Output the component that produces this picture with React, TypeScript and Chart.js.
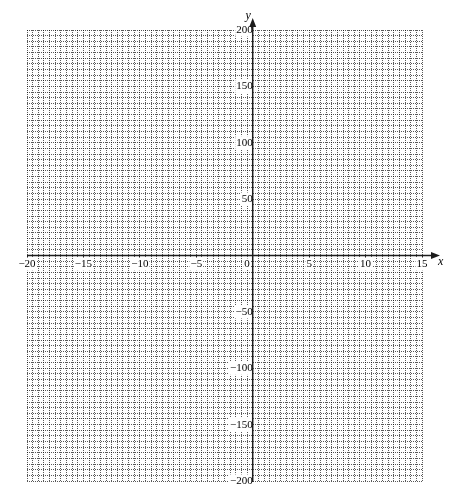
import React, { useEffect, useRef } from 'react';
import { Chart, registerables } from 'chart.js';

Chart.register(...registerables);

// graph paper ranges and labelled ticks
const xRange = [-20, 15];
const yRange = [-200, 200];
const xTicks = [-20, -15, -10, -5, 5, 10, 15];
const yTicks = [-200, -150, -100, -50, 50, 100, 150, 200];
const xGridStep = 0.5;
const yGridStep = 5;
const originLabel = '0';
const xAxisTitle = 'x';
const yAxisTitle = 'y';

const FONT = "'Liberation Serif', 'Times New Roman', serif";
const INK = '#1c1c1c';
const GRID = 'rgba(0, 0, 0, 0.65)';

const fmt = (v: number) => (v < 0 ? '\u2212' + Math.abs(v) : String(v));

// axis lines with arrow heads, axis letters and the origin label
const axesPlugin = {
  id: 'axesArrows',
  afterDraw(chart: any) {
    const { ctx, chartArea, scales } = chart;
    const x0 = scales.x.getPixelForValue(0);
    const y0 = scales.y.getPixelForValue(0);
    const xEnd = chartArea.right + 18;
    const yEnd = chartArea.top - 12;

    ctx.save();
    // origin label on a white patch
    ctx.font = `11px ${FONT}`;
    ctx.textAlign = 'right';
    ctx.textBaseline = 'top';
    const w = ctx.measureText(originLabel).width;
    ctx.fillStyle = '#fff';
    ctx.fillRect(x0 - 3 - w - 1, y0 + 3, w + 2, 11);
    ctx.fillStyle = '#000';
    ctx.fillText(originLabel, x0 - 3, y0 + 3);

    ctx.strokeStyle = INK;
    ctx.fillStyle = INK;
    ctx.lineWidth = 1.5;
    ctx.beginPath();
    ctx.moveTo(chartArea.left, y0);
    ctx.lineTo(xEnd - 6, y0);
    ctx.moveTo(x0, chartArea.bottom + 1);
    ctx.lineTo(x0, yEnd + 6);
    ctx.stroke();

    ctx.beginPath();
    ctx.moveTo(xEnd, y0);
    ctx.lineTo(xEnd - 9, y0 - 3.5);
    ctx.lineTo(xEnd - 9, y0 + 3.5);
    ctx.closePath();
    ctx.moveTo(x0, yEnd);
    ctx.lineTo(x0 - 3.5, yEnd + 9);
    ctx.lineTo(x0 + 3.5, yEnd + 9);
    ctx.closePath();
    ctx.fill();

    ctx.font = `italic 12px ${FONT}`;
    ctx.fillStyle = '#000';
    ctx.textBaseline = 'middle';
    ctx.textAlign = 'left';
    ctx.fillText(xAxisTitle, xEnd - 2, y0 + 6);
    ctx.textAlign = 'right';
    ctx.fillText(yAxisTitle, x0 - 2, yEnd - 2);
    ctx.restore();
  },
};

const gridScale = (axis: 'x' | 'y', range: number[], step: number) => ({
  type: 'linear' as const,
  axis,
  position: axis === 'x' ? 'bottom' : 'left',
  min: range[0],
  max: range[1],
  ticks: { display: false, stepSize: step, autoSkip: false },
  grid: { color: GRID, lineWidth: 1, drawTicks: false, z: -1 },
  border: { display: false, dash: [1, 1] },
});

const tickFont = { family: FONT, size: 11 };

const GraphPaper = () => {
  const canvasRef = useRef<HTMLCanvasElement>(null);

  useEffect(() => {
    const ctx = canvasRef.current!.getContext('2d')!;
    const chart = new Chart(ctx, {
      type: 'scatter',
      data: { datasets: [] },
      plugins: [axesPlugin],
      options: {
        responsive: false,
        animation: false,
        layout: { padding: { left: 27, top: 30, right: 36, bottom: 12 } },
        plugins: { legend: { display: false }, tooltip: { enabled: false } },
        scales: {
          xGrid: gridScale('x', xRange, xGridStep),
          yGrid: gridScale('y', yRange, yGridStep),
          x: {
            type: 'linear',
            position: { y: 0 },
            min: xRange[0],
            max: xRange[1],
            afterBuildTicks: (s: any) => {
              s.ticks = xTicks.map((value) => ({ value }));
            },
            ticks: {
              callback: (v: any) => fmt(Number(v)),
              font: tickFont,
              color: '#000',
              padding: 0,
              autoSkip: false,
              maxRotation: 0,
              showLabelBackdrop: true,
              backdropColor: '#fff',
              backdropPadding: { top: 0, bottom: 0, left: 1, right: 1 },
            },
            grid: { drawOnChartArea: false, drawTicks: true, tickLength: 2, color: INK },
            border: { display: false },
          },
          y: {
            type: 'linear',
            position: { x: 0 },
            min: yRange[0],
            max: yRange[1],
            afterBuildTicks: (s: any) => {
              s.ticks = yTicks.map((value) => ({ value }));
            },
            ticks: {
              callback: (v: any) => fmt(Number(v)),
              font: tickFont,
              color: '#000',
              padding: 1,
              autoSkip: false,
              showLabelBackdrop: true,
              backdropColor: '#fff',
              backdropPadding: { top: 0, bottom: 0, left: 1, right: 0 },
            },
            grid: { drawOnChartArea: false, drawTicks: true, tickLength: 4, color: INK },
            border: { display: false },
          },
        },
      } as any,
    });
    return () => chart.destroy();
  }, []);

  return (
    <div style={{ position: 'absolute', left: 0, top: 0, width: 458, height: 493, background: '#fff' }}>
      <canvas ref={canvasRef} width={458} height={493} style={{ display: 'block' }} />
    </div>
  );
};

export default function App() {
  return <GraphPaper />;
}
